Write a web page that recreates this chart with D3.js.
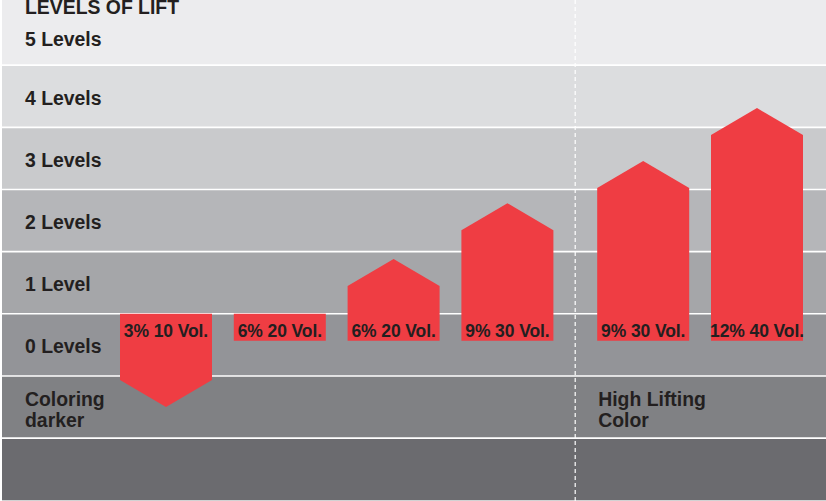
<!DOCTYPE html>
<html>
<head>
<meta charset="utf-8">
<script src="https://cdn.jsdelivr.net/npm/d3@7"></script>
<style>
  html, body { margin: 0; padding: 0; background: #ffffff; }
  svg { display: block; }
  text { font-family: "Liberation Sans", Arial, Helvetica, sans-serif; font-weight: bold; fill: #231f20; }
</style>
</head>
<body>
<svg id="chart" width="826" height="501"></svg>
<script>
// ---- data ----
const title = "LEVELS OF LIFT";
const levelLabels = ["5 Levels", "4 Levels", "3 Levels", "2 Levels", "1 Level", "0 Levels"];
const levelValues = [5, 4, 3, 2, 1, 0];
const bandLevels = [5, 4, 3, 2, 1, 0, -1, -2];
const bandColors = ["#ececee", "#dcdddf", "#c9cacc", "#b5b6b9", "#a5a6a9", "#939498", "#808184", "#6b6b6f"];
const categories = ["3% 10 Vol.", "6% 20 Vol.", "6% 20 Vol.", "9% 30 Vol.", "9% 30 Vol.", "12% 40 Vol."];
const liftTip = [-0.5, 1.0, 1.88, 2.78, 3.46, 4.31];   // arrow tip, in levels
const groupOf = [0, 0, 0, 0, 1, 1];
const groupLabels = [["Coloring", "darker"], ["High Lifting", "Color"]];

// ---- layout ----
const W = 826, H = 501;
const svg = d3.select("#chart");
const y = d3.scaleLinear().domain([-2, 6]).range([500.3, 3]);
const x = d3.scaleLinear().domain([0, 5]).range([120, 120 + 5 * 113.8]);
const groupGap = 22;
const barW = 92;
const head = 27;           // arrow head / label box height (px)
const baseLevel = 1;       // top of the label box
const barLeft = i => x(i) + (groupOf[i] === 1 ? groupGap : 0);
const red = "#ef3d43";
const fs = 19.4;

// bands
svg.selectAll("rect.band").data(bandLevels).join("rect")
  .attr("class", "band")
  .attr("x", 2).attr("width", W - 2)
  .attr("y", d => d === 5 ? 0 : y(d + 1))
  .attr("height", d => d === 5 ? y(5) : y(d) - y(d + 1))
  .attr("fill", (d, i) => bandColors[i]);

// separator lines
svg.selectAll("line.sep").data([5, 4, 3, 2, 1, 0, -1]).join("line")
  .attr("class", "sep")
  .attr("x1", 2).attr("x2", W)
  .attr("y1", d => y(d)).attr("y2", d => y(d))
  .attr("stroke", "#ffffff").attr("stroke-width", 1.6);

// dashed divider
svg.append("line")
  .attr("x1", x(4)).attr("x2", x(4))
  .attr("y1", 0).attr("y2", H)
  .attr("stroke", "#ffffff").attr("stroke-width", 1.2)
  .attr("stroke-dasharray", "4,3");

// title
svg.append("text").attr("x", 25).attr("y", 13.5)
  .attr("font-size", fs).text(title);

// level labels
svg.selectAll("text.level").data(levelLabels).join("text")
  .attr("class", "level")
  .attr("x", 25)
  .attr("y", (d, i) => y(levelValues[i] + 1) + 39.5 + (levelValues[i] === 5 ? 3 : 0))
  .attr("font-size", fs)
  .text(d => d);

// group labels
const glx = [25, barLeft(4) + 1];
groupLabels.forEach((lines, g) => {
  const t = svg.append("text").attr("x", glx[g]).attr("y", y(-1) - 32).attr("font-size", fs);
  lines.forEach((ln, k) => {
    t.append("tspan").attr("x", glx[g]).attr("dy", k === 0 ? 0 : 20.5).text(ln);
  });
});

// arrows
const top1 = y(baseLevel);
const boxBottom = top1 + head;
function arrowPath(i) {
  const l = barLeft(i), r = l + barW, c = l + barW / 2;
  const tip = y(liftTip[i]);
  if (liftTip[i] < baseLevel) {
    const sh = tip - head;
    return `M${l},${top1}L${r},${top1}L${r},${sh}L${c},${tip}L${l},${sh}Z`;
  } else if (liftTip[i] === baseLevel) {
    return `M${l},${top1}L${r},${top1}L${r},${boxBottom}L${l},${boxBottom}Z`;
  } else {
    const sh = tip + head;
    return `M${l},${boxBottom}L${l},${sh}L${c},${tip}L${r},${sh}L${r},${boxBottom}Z`;
  }
}
svg.selectAll("path.bar").data(categories).join("path")
  .attr("class", "bar")
  .attr("d", (d, i) => arrowPath(i))
  .attr("fill", red);

svg.selectAll("text.cat").data(categories).join("text")
  .attr("class", "cat")
  .attr("x", (d, i) => barLeft(i) + barW / 2)
  .attr("y", boxBottom - 4.3)
  .attr("text-anchor", "middle")
  .attr("font-size", 17.5)
  .attr("letter-spacing", -0.1)
  .text(d => d);
</script>
</body>
</html>
